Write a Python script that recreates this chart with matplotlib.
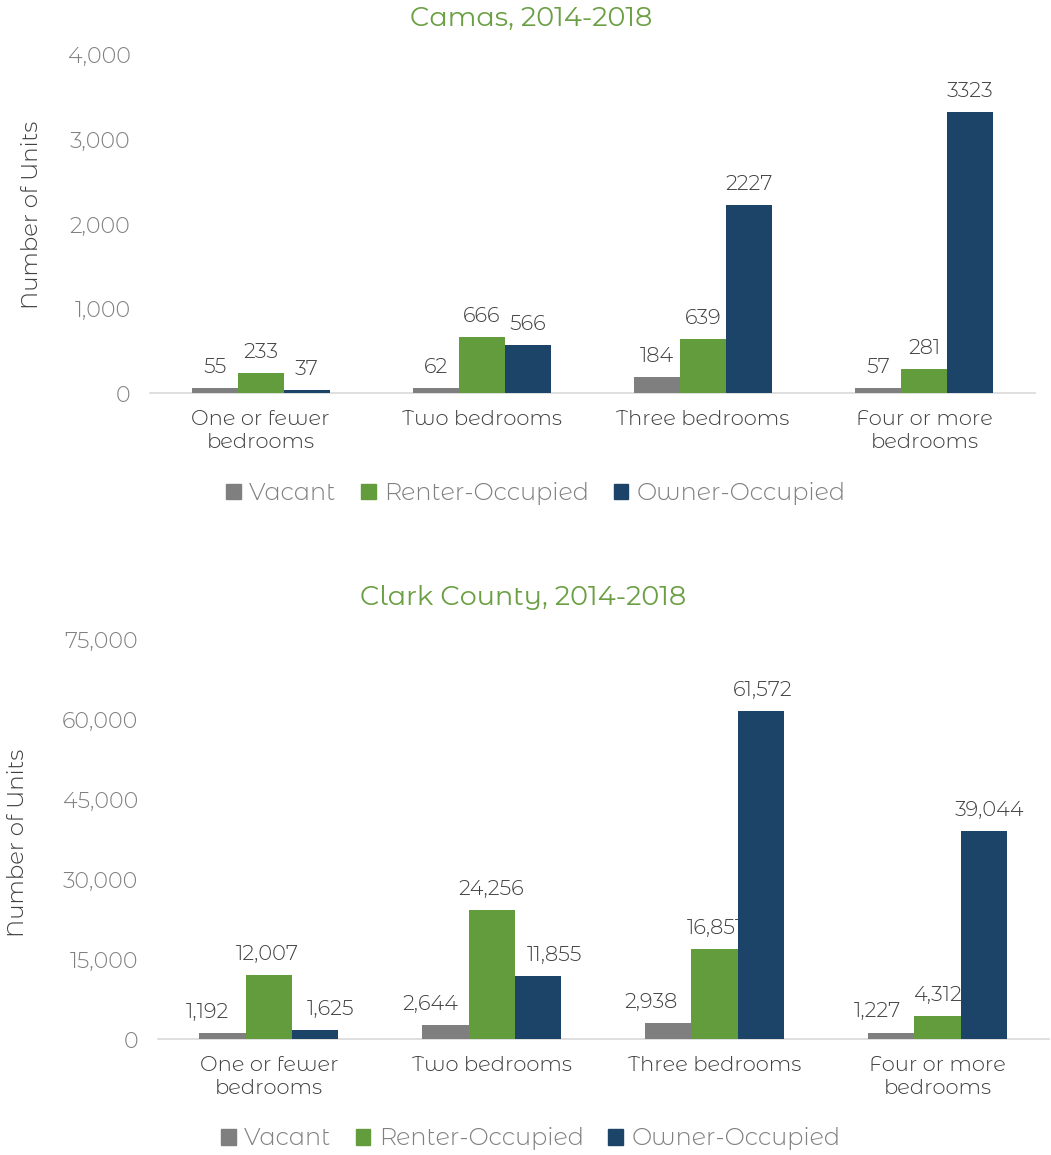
import numpy as np
import matplotlib.pyplot as plt
from matplotlib.patches import Patch

plt.rcParams['font.family'] = ['Montserrat Alternates', 'DejaVu Sans']
plt.rcParams['font.weight'] = 300

categories = ['One or fewer\nbedrooms', 'Two bedrooms', 'Three bedrooms', 'Four or more\nbedrooms']
series_names = ['Vacant', 'Renter-Occupied', 'Owner-Occupied']
colors = ['#7f7f7f', '#629c3c', '#1c4469']

camas_vacant = [55, 62, 184, 57]
camas_renter = [233, 666, 639, 281]
camas_owner = [37, 566, 2227, 3323]

clark_vacant = [1192, 2644, 2938, 1227]
clark_renter = [12007, 24256, 16851, 4312]
clark_owner = [1625, 11855, 61572, 39044]

title_color = '#6a9f43'
text_color = '#404040'
tick_color = '#808080'

# horizontal nudges (points) of the Clark labels, per series, per group
clark_nudge = [[-11, -11, -12, -10], [-1, 0, 0, 0], [11, 12, 1, 4]]
no_nudge = [[0] * 4] * 3


def draw_chart(ax, data, ymax, ystep, fmt, nudge):
    x = np.arange(len(categories))
    w = 0.208
    for i, (vals, name, c) in enumerate(zip(data, series_names, colors)):
        bars = ax.bar(x + (i - 1) * w, vals, w, color=c, label=name, zorder=3)
        for j, (b, v) in enumerate(zip(bars, vals)):
            ax.annotate(fmt(v), (b.get_x() + b.get_width() / 2, v),
                        xytext=(nudge[i][j], 8), textcoords='offset points',
                        ha='center', va='bottom', fontsize=15, color=text_color)
    ax.set_xlim(-0.5, len(categories) - 0.5)
    ax.set_ylim(0, ymax)
    ticks = np.arange(0, ymax + 1, ystep)
    ax.set_yticks(ticks)
    ax.set_yticklabels([f'{int(t):,}' for t in ticks])
    ax.set_xticks(x)
    ax.set_xticklabels(categories, fontsize=15.2, color=text_color, linespacing=1.3)
    ax.tick_params(axis='y', length=0, pad=14, labelsize=16, labelcolor=tick_color)
    ax.tick_params(axis='x', length=0, pad=12)
    for s in ['top', 'right', 'left']:
        ax.spines[s].set_visible(False)
    ax.spines['bottom'].set_color('#d9d9d9')
    ax.spines['bottom'].set_linewidth(1.2)


fig = plt.figure(figsize=(10.51, 11.55), dpi=100)

ax1 = fig.add_axes([0.1427, 0.6597, 0.8421, 0.2927])
draw_chart(ax1, [camas_vacant, camas_renter, camas_owner], 4000, 1000,
           lambda v: f'{v}', no_nudge)

ax2 = fig.add_axes([0.1499, 0.1004, 0.8481, 0.3455])
draw_chart(ax2, [clark_vacant, clark_renter, clark_owner], 75000, 15000,
           lambda v: f'{v:,}', clark_nudge)

fig.text(0.505, 0.9844, 'Camas, 2014-2018', ha='center', va='center',
         fontsize=19.5, color=title_color, weight=400)
fig.text(0.4976, 0.4827, 'Clark County, 2014-2018', ha='center', va='center',
         fontsize=19.5, color=title_color, weight=400)
fig.text(0.0295, 0.814, 'Number of Units', rotation=90, ha='center', va='center',
         fontsize=16.5, color=text_color)
fig.text(0.017, 0.27, 'Number of Units', rotation=90, ha='center', va='center',
         fontsize=16.5, color=text_color)

handles = [Patch(color=c) for c in colors]
for x, y in [(0.51, 0.573), (0.505, 0.0139)]:
    fig.legend(handles, series_names, loc='center', bbox_to_anchor=(x, y),
               ncol=3, frameon=False, fontsize=17.3, handlelength=0.6, handleheight=0.6,
               handletextpad=0.35, columnspacing=1.03, labelcolor=tick_color)

fig.savefig('out.png', dpi=100)
